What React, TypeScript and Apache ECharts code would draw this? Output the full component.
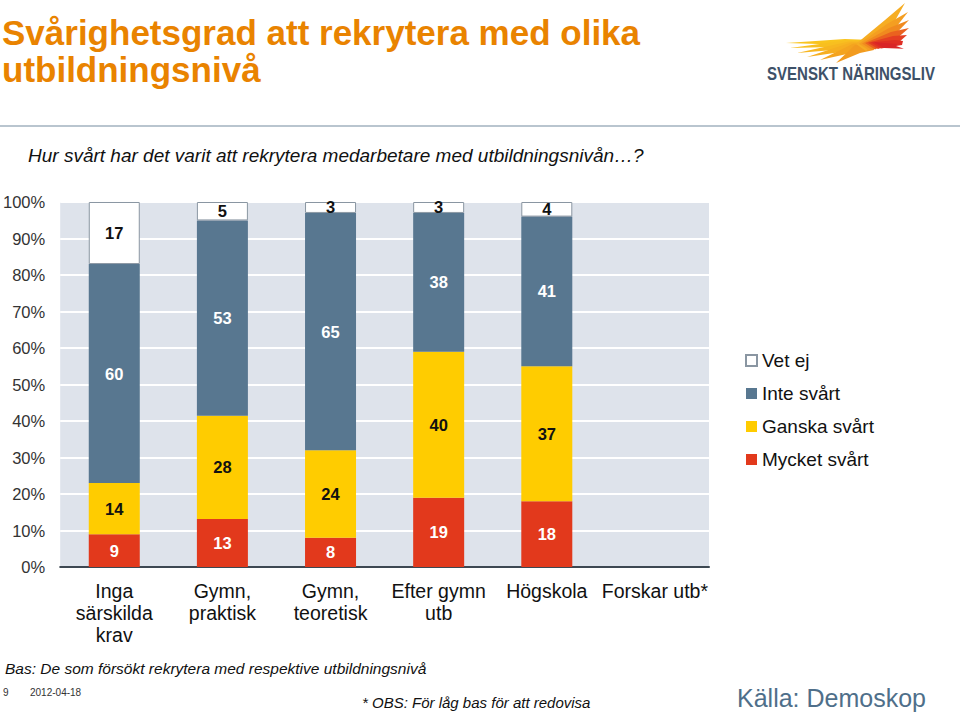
import React, { useEffect, useRef } from "react";
import * as echarts from "echarts";

const categories = [
  "Inga\nsärskilda\nkrav",
  "Gymn,\npraktisk",
  "Gymn,\nteoretisk",
  "Efter gymn\nutb",
  "Högskola",
  "Forskar utb*",
];
const seriesNames = ["Mycket svårt", "Ganska svårt", "Inte svårt", "Vet ej"];
const mycketSvart = [9, 13, 8, 19, 18, null];
const ganskaSvart = [14, 28, 24, 40, 37, null];
const inteSvart = [60, 53, 65, 38, 41, null];
const vetEj = [17, 5, 3, 3, 4, null];
const yTicks = [0, 10, 20, 30, 40, 50, 60, 70, 80, 90, 100];

const FONT = "'Liberation Sans', Arial, Helvetica, sans-serif";

export default function App() {
  const ref = useRef<HTMLDivElement>(null);
  useEffect(() => {
    document.body.style.margin = "0";
    const chart = echarts.init(ref.current!, null, { renderer: "svg" });
    const raw = [mycketSvart, ganskaSvart, inteSvart, vetEj];
    const totals = categories.map((_, i) =>
      raw.reduce((s, arr) => s + (arr[i] ?? 0), 0)
    );
    const colors = ["#E2391C", "#FFCC00", "#587790", "#FFFFFF"];
    const labelColors = ["#FFFFFF", "#111111", "#FFFFFF", "#111111"];

    const series = raw.map((arr, si) => ({
      name: seriesNames[si],
      type: "bar",
      stack: "total",
      barWidth: 51,
      data: arr.map((v, i) => (v == null ? null : (v / totals[i]) * 100)),
      itemStyle: {
        color: colors[si],
        borderColor: si === 3 ? "#8A96A2" : colors[si],
        borderWidth: si === 3 ? 1 : 0,
      },
      label: {
        show: true,
        position: "inside",
        fontFamily: FONT,
        fontWeight: "bold",
        fontSize: 16.5,
        color: labelColors[si],
        formatter: (p: any) => {
          const r = arr[p.dataIndex];
          return r == null ? "" : String(r);
        },
      },
    }));

    // logo feathers
    const feathers: any[] = [];
    const leftTips = [
      [786, 43],
      [790, 48],
      [797, 53],
      [807, 57],
      [820, 60],
      [836, 63],
    ];
    const leftCols = ["#F9C41E", "#F8BF20", "#F7B620", "#F6AE20", "#F4A41F", "#F29B1F"];
    leftTips.forEach((t, i) => {
      feathers.push({
        type: "polygon",
        shape: {
          points: [
            t,
            [845 + i * 2, 39 + i * 1.2],
            [872, 40 + i * 0.8],
            [874, 47 + i * 0.6],
            [850 + i * 2, 45 + i * 1.6],
          ],
        },
        style: { fill: leftCols[i] },
      });
    });
    const rightTips = [
      [905, 3],
      [908, 12],
      [909, 20],
      [909, 28],
      [907, 35],
      [903, 41],
      [896, 46],
    ];
    const rightCols = ["#F6AD23", "#F49E21", "#F08A1F", "#EA621F", "#E43E22", "#DF2D24", "#D92427"];
    rightTips.forEach((t, i) => {
      feathers.push({
        type: "polygon",
        shape: {
          points: [
            t,
            [885 + i * 2, 20 + i * 4],
            [856 + i * 3, 44 - i * 0.3],
            [866 + i * 3, 51 - i * 0.5],
            [892 + i * 2, 26 + i * 3.8],
          ],
        },
        style: { fill: rightCols[i] },
      });
    });

    const option: any = {
      animation: false,
      backgroundColor: "#FFFFFF",
      textStyle: { fontFamily: FONT },
      grid: {
        left: 60,
        right: 251,
        top: 202,
        bottom: 147,
        show: true,
        backgroundColor: "#DEE3EB",
        borderWidth: 0,
      },
      legend: {
        orient: "vertical",
        left: 740,
        top: 346,
        itemWidth: 11,
        itemHeight: 11,
        itemGap: 14,
        icon: "rect",
        data: ["Vet ej", "Inte svårt", "Ganska svårt", "Mycket svårt"],
        textStyle: {
          fontFamily: FONT,
          fontSize: 19,
          color: "#111111",
          lineHeight: 19,
        },
      },
      xAxis: {
        type: "category",
        data: categories,
        axisTick: { show: false },
        axisLine: { lineStyle: { color: "#3D4852", width: 2 } },
        axisLabel: {
          interval: 0,
          margin: 13,
          fontFamily: FONT,
          fontSize: 19.5,
          lineHeight: 22,
          color: "#111111",
        },
      },
      yAxis: {
        type: "value",
        min: yTicks[0],
        max: yTicks[yTicks.length - 1],
        interval: yTicks[1] - yTicks[0],
        axisLine: { show: false },
        axisTick: { show: false },
        splitLine: { lineStyle: { color: "#FFFFFF", width: 2 } },
        axisLabel: {
          formatter: "{value}%",
          margin: 15,
          fontFamily: FONT,
          fontSize: 16.5,
          color: "#333333",
        },
      },
      series,
      graphic: [
        {
          type: "text",
          left: 2,
          top: 14,
          style: {
            text: "Svårighetsgrad att rekrytera med olika\nutbildningsnivå",
            fontFamily: FONT,
            fontWeight: "bold",
            fontSize: 35,
            lineHeight: 37,
            fill: "#E98300",
          },
        },
        {
          type: "line",
          shape: { x1: 0, y1: 126, x2: 960, y2: 126 },
          style: { stroke: "#B9C5CF", lineWidth: 2 },
        },
        {
          type: "text",
          left: 28,
          top: 146,
          style: {
            text: "Hur svårt har det varit att rekrytera medarbetare med utbildningsnivån…?",
            fontFamily: FONT,
            fontStyle: "italic",
            fontSize: 19,
            fill: "#111111",
          },
        },
        {
          type: "text",
          left: 5,
          top: 660,
          style: {
            text: "Bas: De som försökt rekrytera med respektive utbildningsnivå",
            fontFamily: FONT,
            fontStyle: "italic",
            fontSize: 15.5,
            fill: "#111111",
          },
        },
        {
          type: "text",
          left: 3,
          top: 687,
          style: { text: "9", fontFamily: FONT, fontSize: 10, fill: "#333333" },
        },
        {
          type: "text",
          left: 30,
          top: 687,
          style: { text: "2012-04-18", fontFamily: FONT, fontSize: 10, fill: "#333333" },
        },
        {
          type: "text",
          left: 362,
          top: 695,
          style: {
            text: "* OBS: För låg bas för att redovisa",
            fontFamily: FONT,
            fontStyle: "italic",
            fontSize: 15,
            fill: "#111111",
          },
        },
        {
          type: "text",
          left: 737,
          top: 685,
          style: {
            text: "Källa: Demoskop",
            fontFamily: FONT,
            fontSize: 25,
            fill: "#4F6F8A",
          },
        },
        {
          type: "group",
          children: feathers,
        },
        {
          type: "text",
          x: 767,
          y: 74,
          scaleX: 0.86,
          style: {
            text: "SVENSKT NÄRINGSLIV",
            x: 0,
            y: 0,
            textVerticalAlign: "middle",
            verticalAlign: "middle",
            fontFamily: FONT,
            fontWeight: "bold",
            fontSize: 17.5,
            fill: "#3E5168",
          },
        },
      ],
    };
    chart.setOption(option);
    return () => chart.dispose();
  }, []);
  return (
    <div
      ref={ref}
      style={{ position: "fixed", left: 0, top: 0, width: 960, height: 714 }}
    />
  );
}
